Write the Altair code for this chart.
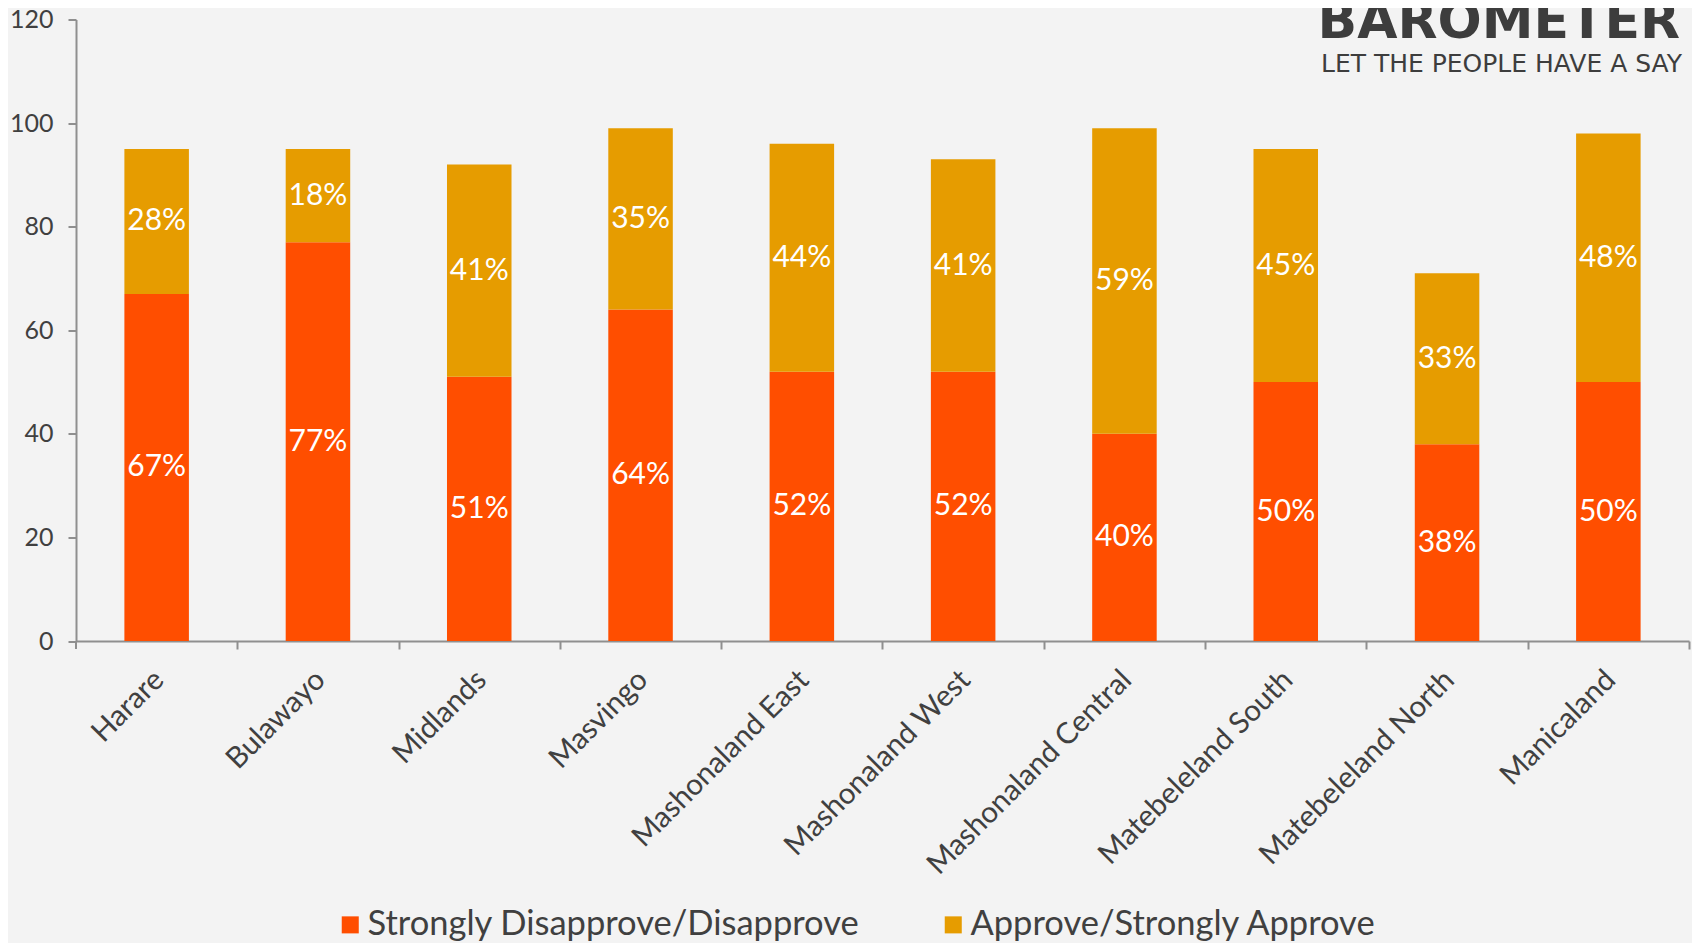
import altair as alt
import pandas as pd

regions = ["Harare", "Bulawayo", "Midlands", "Masvingo", "Mashonaland East",
           "Mashonaland West", "Mashonaland Central", "Matebeleland South",
           "Matebeleland North", "Manicaland"]
disapprove = [67, 77, 51, 64, 52, 52, 40, 50, 38, 50]
approve = [28, 18, 41, 35, 44, 41, 59, 45, 33, 48]
series = ["Strongly Disapprove/Disapprove", "Approve/Strongly Approve"]
colors = ["#FF4E00", "#E69C00"]
y_ticks = [0, 20, 40, 60, 80, 100, 120]

rows = []
for r, d, a in zip(regions, disapprove, approve):
    rows.append({"region": r, "series": series[0], "value": d, "ord": 0})
    rows.append({"region": r, "series": series[1], "value": a, "ord": 1})
df = pd.DataFrame(rows)

FONT = "Lato"
TXT = "#404040"
AX = "#8f8f8f"
W = 1613
H = 621.5
STEP = W / len(regions)

base = alt.Chart(df).transform_stack(
    stack="value", groupby=["region"], as_=["y0", "y1"],
    sort=[alt.SortField("ord", order="ascending")]
).transform_calculate(
    mid="(datum.y0 + datum.y1) / 2",
    label="datum.value + '%'"
)

xenc = alt.X("region:N", sort=regions, title=None,
             scale=alt.Scale(paddingInner=0.6, paddingOuter=0.3),
             axis=alt.Axis(labelAngle=-45, labelAlign="right", labelBaseline="top",
                           labelFontSize=29.5, labelFont=FONT, labelColor=TXT,
                           labelPadding=16, tickOffset=STEP / 2,
                           labelOffset=-STEP / 2 - 8, tickSize=8,
                           tickColor=AX, tickWidth=2, domainColor=AX, domainWidth=2,
                           grid=False, labelOverlap=False, labelLimit=0))

bars = base.mark_bar().encode(
    x=xenc,
    y=alt.Y("y0:Q", title=None,
            scale=alt.Scale(domain=[0, 120], nice=False),
            axis=alt.Axis(values=y_ticks, labelFontSize=25, labelFont=FONT,
                          labelColor=TXT, labelPadding=15, tickSize=8,
                          tickColor=AX, tickWidth=2, domainColor=AX,
                          domainWidth=2, grid=False)),
    y2="y1:Q",
    color=alt.Color("series:N", scale=alt.Scale(domain=series, range=colors),
                    legend=alt.Legend(title=None, orient="none", legendX=257,
                                      legendY=888, direction="horizontal",
                                      symbolType="square", symbolSize=290,
                                      symbolStrokeWidth=0, labelFontSize=34.5,
                                      labelFont=FONT, labelColor=TXT,
                                      labelOffset=0, columnPadding=76,
                                      padding=0, labelLimit=0)),
    order=alt.Order("ord:Q", sort="ascending"),
)

labels = base.mark_text(color="white", fontSize=30, font=FONT, baseline="middle").encode(
    x=alt.X("region:N", sort=regions),
    y=alt.Y("mid:Q"),
    text="label:N",
)

origin_tick = alt.Chart(pd.DataFrame({"k": [0]})).mark_rule(
    color=AX, strokeWidth=2
).encode(x=alt.value(0), y=alt.value(H), y2=alt.value(H + 8))

logo1 = alt.Chart(pd.DataFrame({"t": ["BAROMETER"]})).mark_text(
    font="DejaVu Sans", fontWeight="bold", fontSize=52, color="#3d3d3d",
    align="right", baseline="alphabetic"
).encode(x=alt.value(1604), y=alt.value(18.5), text="t:N")

logo2 = alt.Chart(pd.DataFrame({"t": ["LET THE PEOPLE HAVE A SAY"]})).mark_text(
    font="DejaVu Sans", fontSize=25, color="#3d3d3d",
    align="right", baseline="alphabetic"
).encode(x=alt.value(1606), y=alt.value(52), text="t:N")

chart = alt.layer(bars, labels, origin_tick, logo1, logo2).properties(
    width=W, height=H,
    autosize=alt.AutoSizeParams(type="none"),
    padding={"left": 68, "top": 11.5, "right": 3, "bottom": 302},
    background="#f3f3f3",
).configure_view(stroke=None)

chart.save("out.html", embed_options={"renderer": "svg", "actions": False})
